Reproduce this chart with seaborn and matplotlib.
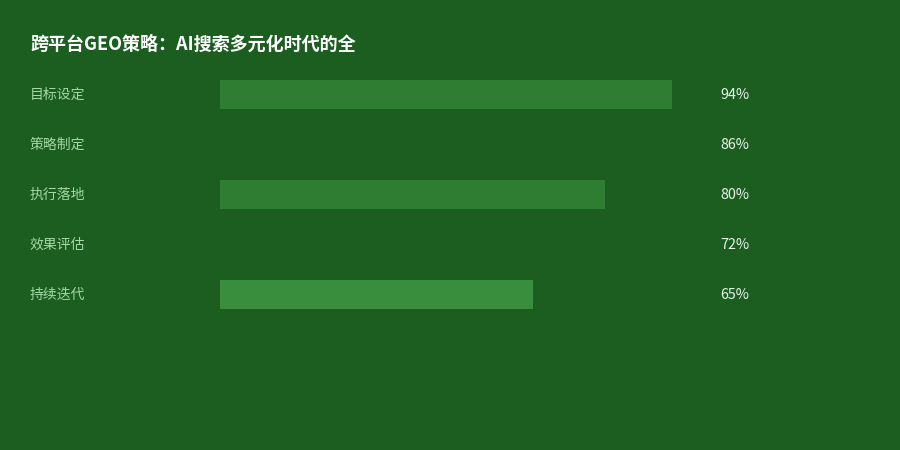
import matplotlib
matplotlib.use("Agg")
import matplotlib.pyplot as plt
import seaborn as sns
import pandas as pd

categories = ["目标设定", "策略制定", "执行落地", "效果评估", "持续迭代"]
values = [94, 86, 80, 72, 65]
bar_colors = ["#2E7D32", "#1B5E20", "#2E7D32", "#1B5E20", "#388E3C"]
title = "跨平台GEO策略：AI搜索多元化时代的全"

BG = "#1B5E20"
sns.set_theme(style="white")
plt.rcParams["font.family"] = ["Noto Sans CJK SC", "DejaVu Sans"]

df = pd.DataFrame({"cat": categories, "val": values})

fig = plt.figure(figsize=(9, 4.5), dpi=100, facecolor=BG)
ax = fig.add_axes([220 / 900, 1 - 319 / 450, 481 / 900, 250 / 450])
ax.set_facecolor(BG)
sns.barplot(data=df, y="cat", x="val", hue="cat", palette=bar_colors,
            orient="h", width=0.58, legend=False, ax=ax, saturation=1,
            linewidth=0, edgecolor="none")
ax.set_xlim(0, 100)
ax.set_ylim(4.5, -0.5)
ax.set_axis_off()

for i, (c, v) in enumerate(zip(categories, values)):
    ax.text(-(190 / 481) * 100, i + 0.02, c, color="#A5D6A7", fontsize=10,
            va="center", ha="left", transform=ax.transData, clip_on=False)
    ax.text((500 / 481) * 100, i + 0.02, f"{v}%", color="#E8F5E9", fontsize=10.3,
            va="center", ha="left", transform=ax.transData, clip_on=False)

fig.text(30 / 900, 1 - 44 / 450, title, color="white", fontsize=13,
         fontweight="bold", va="center", ha="left")

fig.savefig("out.png", dpi=100, facecolor=BG)
